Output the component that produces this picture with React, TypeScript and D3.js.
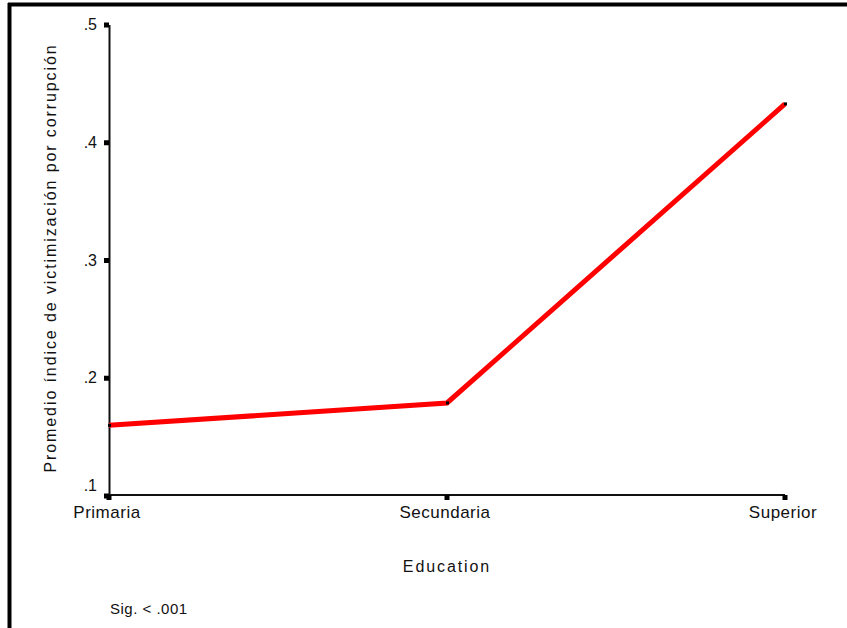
import React from "react";
import * as d3 from "d3";

const categories = ["Primaria", "Secundaria", "Superior"];
const values = [0.160, 0.179, 0.433];
const yTicks = [0.1, 0.2, 0.3, 0.4, 0.5];
const yTickLabels = [".1", ".2", ".3", ".4", ".5"];
const xTitle = "Education";
const yTitle = "Promedio índice de victimización por corrupción";
const note = "Sig. < .001";

const W = 847;
const H = 628;
const FONT = "'Liberation Sans', Arial, sans-serif";

export default function App() {
  const x = d3.scalePoint<string>().domain(categories).range([109, 785]);
  const y = d3.scaleLinear().domain([0.1, 0.5]).range([496, 25]);
  const line = d3
    .line<number>()
    .x((_, i) => x(categories[i]) as number)
    .y((d) => y(d));

  return (
    <svg
      width={W}
      height={H}
      style={{ position: "absolute", left: 0, top: 0, background: "#fff" }}
      fontFamily={FONT}
    >
      <rect x={0} y={0} width={W} height={H} fill="#fff" />
      {/* frame */}
      <line x1={9.5} y1={3} x2={9.5} y2={H} stroke="#000" strokeWidth={4} />
      <line x1={8} y1={4.5} x2={W} y2={4.5} stroke="#000" strokeWidth={4} />

      {/* axes */}
      <line x1={109.5} y1={y(0.5)} x2={109.5} y2={y(0.1)} stroke="#111" strokeWidth={2} />
      <line x1={109} y1={y(0.1) - 1} x2={785} y2={y(0.1) - 1} stroke="#111" strokeWidth={2} />

      {yTicks.map((t, i) => (
        <g key={"y" + i}>
          <rect x={104} y={y(t) - 2.5} width={5} height={5} fill="#000" />
          <text
            x={97}
            y={y(t) + 5 - (i === 0 ? 10 : 0)}
            textAnchor="end"
            fontSize={16}
            fill="#111"
          >
            {yTickLabels[i]}
          </text>
        </g>
      ))}

      {categories.map((c, i) => (
        <g key={"x" + i}>
          <rect x={(x(c) as number) - 2.5} y={y(0.1) - 1} width={5} height={5} fill="#000" />
          <text
            x={(x(c) as number) - 2}
            y={518}
            textAnchor="middle"
            fontSize={17}
            letterSpacing={0.5}
            fill="#111"
          >
            {c}
          </text>
        </g>
      ))}

      {/* data line */}
      <path d={line(values) || ""} fill="none" stroke="#ff0000" strokeWidth={5} />
      {values.map((v, i) => (
        <rect
          key={"m" + i}
          x={(x(categories[i]) as number) - 1}
          y={y(v) - 1.5}
          width={3}
          height={3}
          fill="#000"
        />
      ))}

      {/* titles */}
      <text
        x={447}
        y={572}
        textAnchor="middle"
        fontSize={16}
        letterSpacing={1.9}
        fill="#111"
      >
        {xTitle}
      </text>
      <text
        transform={`translate(56,258) rotate(-90)`}
        textAnchor="middle"
        fontSize={16}
        letterSpacing={1.9}
        fill="#111"
      >
        {yTitle}
      </text>
      <text x={110} y={614} fontSize={15} letterSpacing={0.5} fill="#111">
        {note}
      </text>
    </svg>
  );
}
